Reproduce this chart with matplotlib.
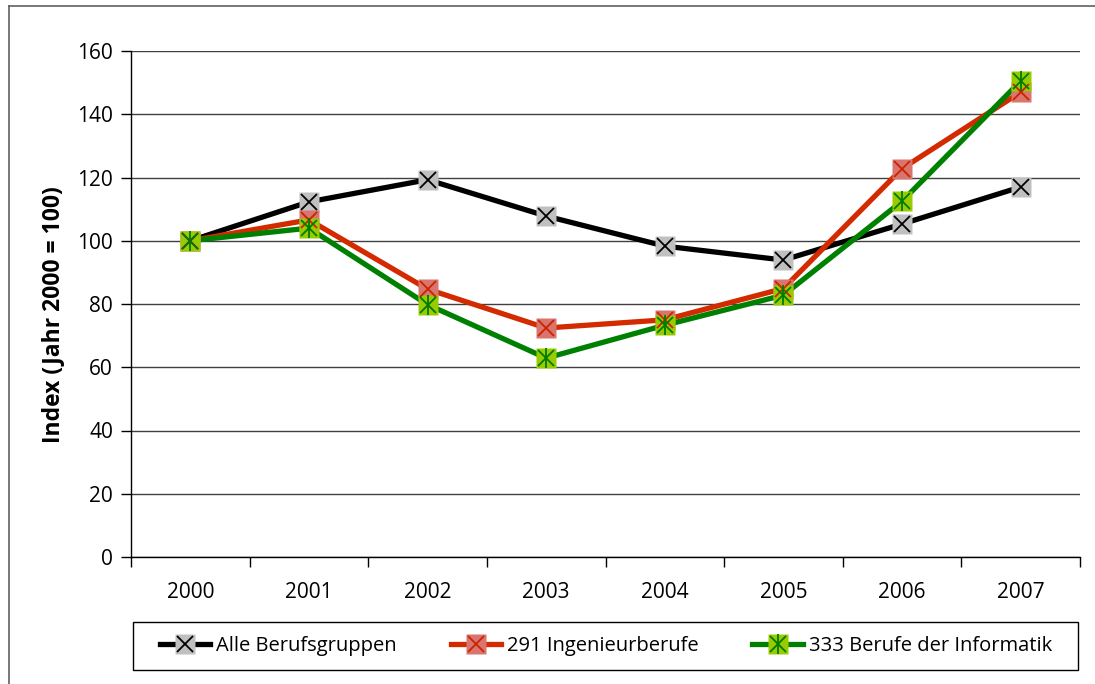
import matplotlib
matplotlib.use("Agg")
import matplotlib.pyplot as plt
from matplotlib.lines import Line2D
from matplotlib.patches import Rectangle
from matplotlib.legend_handler import HandlerTuple

plt.rcParams['font.family'] = ['Open Sans', 'DejaVu Sans']

years = ["2000", "2001", "2002", "2003", "2004", "2005", "2006", "2007"]
alle = [100, 112.3, 119.3, 107.8, 98.3, 93.9, 105.3, 117.0]
ingenieur = [100, 106.6, 84.7, 72.4, 75.0, 84.9, 122.8, 147.0]
informatik = [100, 104.0, 79.8, 62.9, 73.3, 82.8, 112.5, 150.5]
labels = ["Alle Berufsgruppen", "291 Ingenieurberufe", "333 Berufe der Informatik"]
yticks = [0, 20, 40, 60, 80, 100, 120, 140, 160]

W, H = 1095, 684
fig = plt.figure(figsize=(W / 100, H / 100), dpi=100)
ax = fig.add_axes([131 / W, 1 - 557 / H, (1080 - 131) / W, (557 - 51) / H])

x = [i + 0.5 for i in range(len(years))]

styles = [
    # line color, square color, cross color, extra vertical bar
    ("#000000", "#c0c0c0", "#000000", False),
    ("#d42a00", "#d9756c", "#cc2200", False),
    ("#008000", "#99cc00", "#007a00", True),
]
series = [alle, ingenieur, informatik]

MS_SQ = 14
MS_X = 12
handles = []
for vals, (lc, sc, xc, bar), lab in zip(series, styles, labels):
    ax.plot(x, vals, color=lc, lw=3.8, zorder=3, solid_joinstyle='round')
    ax.plot(x, vals, ls='none', marker='s', ms=MS_SQ, mfc=sc, mec='none', zorder=4)
    ax.plot(x, vals, ls='none', marker='x', ms=MS_X, mec=xc, mew=1.3, zorder=5)
    h_line = Line2D([], [], color=lc, lw=3.8, marker='s', ms=MS_SQ, mfc=sc, mec='none')
    h_x = Line2D([], [], ls='none', marker='x', ms=MS_X, mec=xc, mew=1.3)
    parts = [h_line, h_x]
    if bar:
        ax.plot(x, vals, ls='none', marker='|', ms=MS_X + 2, mec=xc, mew=1.3, zorder=5)
        parts.append(Line2D([], [], ls='none', marker='|', ms=MS_X + 2, mec=xc, mew=1.3))
    handles.append(tuple(parts))

ax.set_xlim(0, len(years))
ax.set_ylim(0, 160)
ax.set_yticks(yticks)
ax.set_yticklabels([str(v) for v in yticks])
ax.set_xticks(range(len(years) + 1))
ax.set_xticklabels([])
ax.set_xticks(x, minor=True)
ax.set_xticklabels(years, minor=True)
FS = 15
ax.tick_params(axis='x', which='major', length=7, width=1, direction='out', color='black')
ax.tick_params(axis='x', which='minor', length=0, pad=18, labelsize=FS)
ax.tick_params(axis='y', length=7, width=1, direction='out', color='black', pad=6, labelsize=FS)
ax.yaxis.grid(True, color='#404040', lw=1)
ax.set_axisbelow(True)
for s in ['top', 'right']:
    ax.spines[s].set_visible(False)
for s in ['left', 'bottom']:
    ax.spines[s].set_color('black')
    ax.spines[s].set_linewidth(1)

ax.set_ylabel("Index (Jahr 2000 = 100)", fontsize=16.5, fontweight='bold')
ax.yaxis.set_label_coords((65 - 131) / 949, (557 - 314.5) / 506)

# legend frame
fig.add_artist(Rectangle((133 / W, 1 - 670 / H), (1078 - 133) / W, 48 / H, transform=fig.transFigure,
                         fill=False, edgecolor='black', lw=1))
leg = fig.legend(handles, labels, handler_map={tuple: HandlerTuple(ndivide=1, pad=0)},
                 loc='center', ncol=3, bbox_to_anchor=(160 / W, 1 - 670 / H, (1052 - 160) / W, 48 / H),
                 mode='expand', frameon=False, fontsize=14.5,
                 handlelength=2.5, handletextpad=0.3, borderaxespad=0, borderpad=0)

# outer chart border (left and top visible)
fig.add_artist(Line2D([9 / W, 9 / W], [0, 1 - 6 / H], color='#606060', lw=1.2, transform=fig.transFigure))
fig.add_artist(Line2D([9 / W, 1], [1 - 6 / H, 1 - 6 / H], color='#606060', lw=1.2, transform=fig.transFigure))

fig.savefig("out.png", dpi=100)
